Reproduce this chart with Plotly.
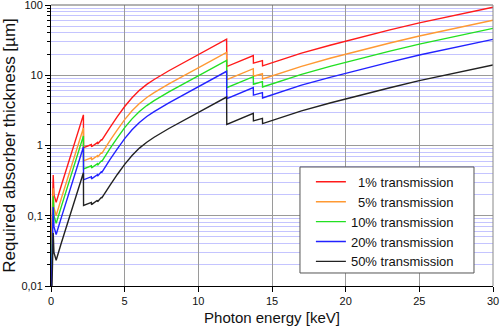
import plotly.graph_objects as go

# Photon energy [keV]
energy = [0.01, 0.08, 0.15, 0.2, 0.35, 0.7, 1.2, 1.7, 2.2, 2.21, 2.5, 2.74, 2.75, 3.15, 3.16,
          3.43, 3.44, 3.7, 4.0, 4.5, 5.0, 5.5, 6.0, 6.5, 7.0, 8.0, 9.0, 10.0, 11.0, 11.92,
          11.93, 12.8, 13.73, 13.74, 14.35, 14.36, 15.5, 17.0, 19.0, 21.0, 23.0, 25.0, 27.5, 30.0]

# Required absorber thickness [µm]
t1 = [0.02, 0.1, 0.38, 0.2, 0.155, 0.27, 0.58, 1.26, 2.73, 0.93, 0.98, 1.03, 0.96, 1.1, 1.05,
      1.22, 1.18, 1.45, 1.80, 2.57, 3.59, 4.79, 6.1, 7.41, 8.71, 11.6, 15.1, 19.5, 25.4, 32.6,
      13.3, 16.0, 19.1, 14.9, 16.2, 13.6, 16.2, 20.65, 27.0, 34.7, 44.2, 55.6, 72.8, 93.1]
t5 = [0.013, 0.065, 0.247, 0.13, 0.101, 0.176, 0.377, 0.82, 1.78, 0.605, 0.64, 0.67, 0.625, 0.716, 0.683,
      0.794, 0.768, 0.943, 1.17, 1.67, 2.34, 3.12, 3.97, 4.82, 5.67, 7.55, 9.82, 12.7, 16.5, 21.2,
      8.65, 10.4, 12.4, 9.69, 10.5, 8.85, 10.5, 13.4, 17.6, 22.6, 28.8, 36.2, 47.4, 60.6]
t10 = [0.01, 0.05, 0.19, 0.1, 0.078, 0.135, 0.29, 0.63, 1.37, 0.465, 0.49, 0.515, 0.48, 0.55, 0.525,
       0.61, 0.59, 0.725, 0.90, 1.285, 1.795, 2.395, 3.05, 3.705, 4.355, 5.8, 7.55, 9.75, 12.7, 16.3,
       6.65, 8.0, 9.55, 7.45, 8.1, 6.8, 8.1, 10.3, 13.5, 17.35, 22.1, 27.8, 36.4, 46.5]
t20 = [0.007, 0.035, 0.133, 0.07, 0.054, 0.094, 0.203, 0.44, 0.95, 0.325, 0.342, 0.36, 0.335, 0.384, 0.367,
       0.426, 0.412, 0.507, 0.629, 0.898, 1.254, 1.674, 2.13, 2.59, 3.04, 4.05, 5.28, 6.81, 8.87, 11.4,
       4.65, 5.59, 6.67, 5.21, 5.66, 4.75, 5.66, 7.22, 9.43, 12.1, 15.4, 19.4, 25.4, 32.5]
t50 = [0.003, 0.015, 0.057, 0.03, 0.0233, 0.041, 0.087, 0.19, 0.41, 0.14, 0.147, 0.155, 0.144, 0.166, 0.158,
       0.184, 0.178, 0.218, 0.271, 0.387, 0.540, 0.721, 0.918, 1.115, 1.31, 1.746, 2.27, 2.93, 3.82, 4.9,
       2.0, 2.41, 2.87, 2.24, 2.44, 2.05, 2.44, 3.11, 4.06, 5.22, 6.65, 8.37, 10.96, 14.0]

series_names = ["\u00a0\u00a01% transmission", "\u00a0\u00a05% transmission",
                "10% transmission", "20% transmission", "50% transmission"]
series_values = [t1, t5, t10, t20, t50]
series_colors = ["#ff1a1a", "#ff9933", "#22e022", "#2222ff", "#222222"]

y_tickvals = [0.01, 0.1, 1, 10, 100]
y_ticktext = ["0,01", "0,1", "1", "10", "100"]
x_tickvals = [0, 5, 10, 15, 20, 25, 30]

FONT = "Liberation Sans, Arial, sans-serif"

fig = go.Figure()
for name, vals, col in zip(series_names, series_values, series_colors):
    fig.add_trace(go.Scatter(x=energy, y=vals, mode="lines", name=name,
                             line=dict(color=col, width=1.4)))

fig.update_layout(
    width=500, height=327,
    margin=dict(l=51, r=7, t=5, b=41),
    paper_bgcolor="white", plot_bgcolor="white",
    font=dict(family=FONT, color="#111111", size=11),
    showlegend=True,
    legend=dict(x=0.588, y=0.424, xanchor="left", yanchor="top",
                bgcolor="rgba(0,0,0,0)", borderwidth=0,
                font=dict(family=FONT, size=13, color="#111111"),
                tracegroupgap=0),
    xaxis=dict(range=[0, 30], tickvals=x_tickvals, ticks="outside", ticklen=5,
               tickcolor="black", showline=True, linecolor="black", linewidth=1,
               showgrid=True, gridcolor="#9a9a9a", gridwidth=1, zeroline=False,
               ticklabeloverflow="allow", automargin=False,
               title=dict(text="Photon energy [keV]", font=dict(size=15), standoff=6),
               tickfont=dict(size=11)),
    yaxis=dict(type="log", range=[-2, 2.0003], tickvals=y_tickvals, ticktext=y_ticktext,
               ticks="outside", ticklen=5, tickcolor="black",
               showline=True, linecolor="black", linewidth=1,
               showgrid=True, gridcolor="#9a9a9a", gridwidth=1, zeroline=False,
               ticklabeloverflow="allow", automargin=False,
               minor=dict(ticks="outside", ticklen=3, tickcolor="black",
                          showgrid=True, gridcolor="#c4c4ff", gridwidth=1,
                          tickvals=[m * 10 ** e for e in range(-2, 2) for m in range(2, 10)]),
               title=dict(text="Required absorber thickness [µm]", font=dict(size=17), standoff=3),
               tickfont=dict(size=11)),
    shapes=[
        dict(type="rect", xref="paper", yref="paper", x0=0.5633, x1=0.957, y0=0.0463, y1=0.4235,
             fillcolor="white", line=dict(color="#555555", width=1), layer="above"),
        dict(type="line", xref="paper", yref="paper", x0=0, x1=1, y0=1, y1=1,
             line=dict(color="#666666", width=1), layer="above"),
        dict(type="line", xref="paper", yref="paper", x0=1, x1=1, y0=0, y1=1,
             line=dict(color="#888888", width=1), layer="above"),
    ],
)

fig.write_html("out.html")
